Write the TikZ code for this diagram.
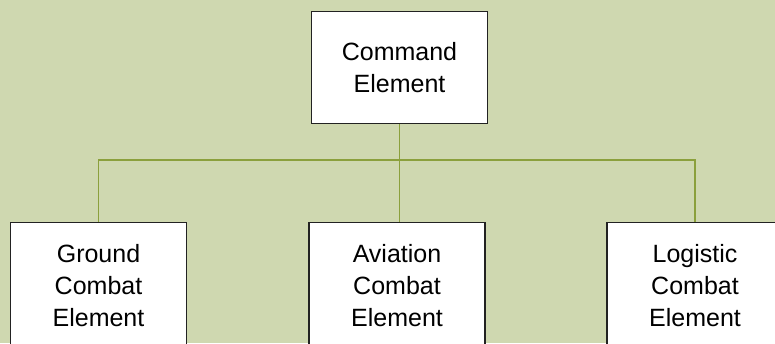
\documentclass[tikz,border=0pt]{standalone}
\usepackage{fontspec}
\setmainfont{Liberation Sans}
\definecolor{bgolive}{HTML}{CFD8B0}
\definecolor{lineolive}{HTML}{8BA03C}
\definecolor{boxline}{HTML}{222222}
\begin{document}
\begin{tikzpicture}[x=1pt,y=1pt,
  orgbox/.style={draw=boxline, line width=1.3pt, fill=white, inner sep=0pt,
    minimum width=176pt, align=center, font=\fontsize{25}{32}\selectfont},
  conn/.style={draw=lineolive, line width=1.4pt}]
\useasboundingbox (0,0) rectangle (775,-343);
\clip (0,0) rectangle (775,-343);
\fill[bgolive] (0,0) rectangle (775,-343);
\node[orgbox, minimum height=112pt, anchor=north] (cmd) at (399.5,-11) {Command\\Element};
\node[orgbox, minimum height=126pt, anchor=north] (gce) at (98.5,-222) {Ground\\Combat\\Element};
\node[orgbox, minimum height=126pt, anchor=north] (ace) at (397,-222) {Aviation\\Combat\\Element};
\node[orgbox, minimum height=126pt, anchor=north] (lce) at (695,-222) {Logistic\\Combat\\Element};
\coordinate (bus) at (399.5,-160);
\begin{scope}[on background layer/.style={}]
\end{scope}
\draw[conn] (cmd.south) -- (cmd.south |- ace.north);
\draw[conn] (gce.north) -- (gce.north |- bus) -- (lce.north |- bus) -- (lce.north);
\end{tikzpicture}
\end{document}
